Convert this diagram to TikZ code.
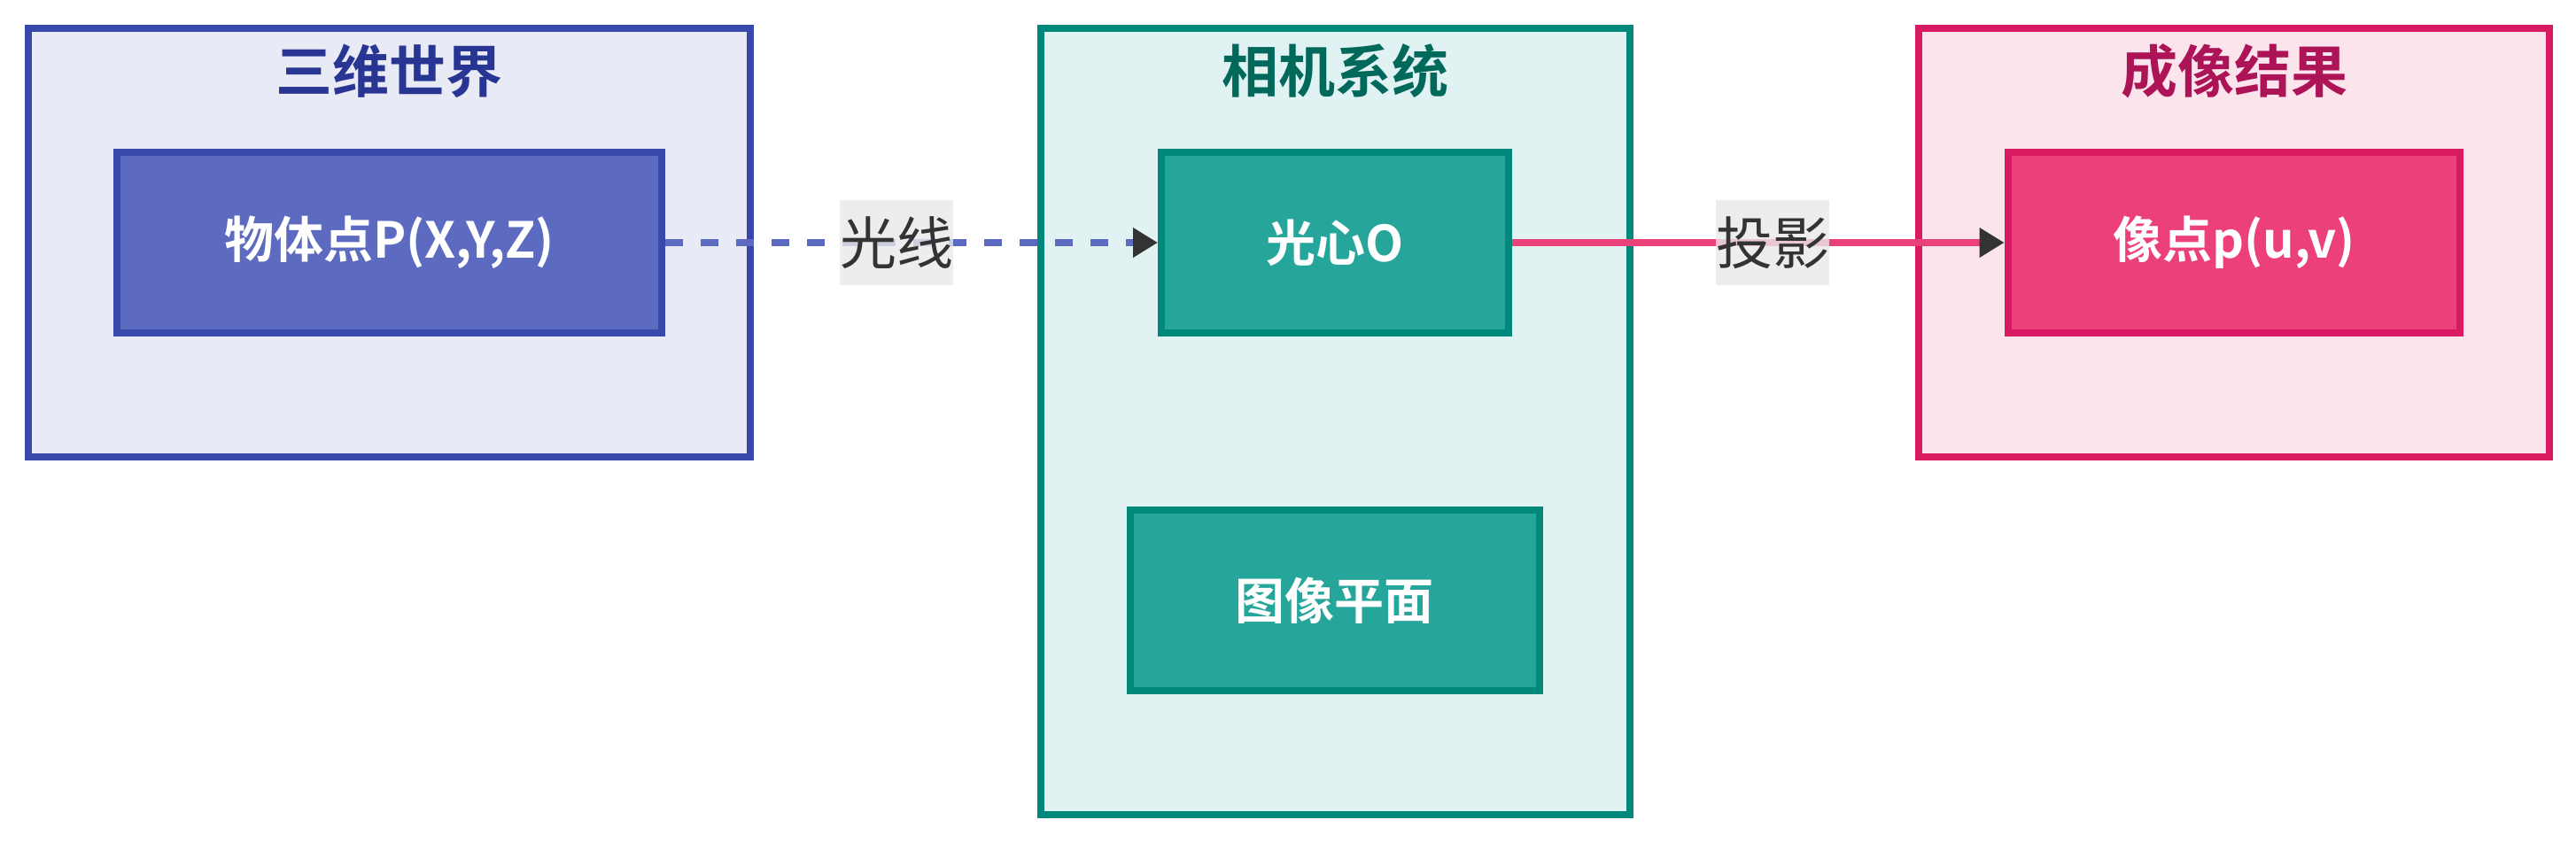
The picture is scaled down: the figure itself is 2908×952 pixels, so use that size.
\documentclass[tikz,border=0pt]{standalone}
\usepackage{fontspec}
\setmainfont{Noto Sans CJK SC}[BoldFont={Noto Sans CJK SC Bold}]
\usepackage{xcolor}
\definecolor{world-fill}{HTML}{E8EAF6}
\definecolor{world-line}{HTML}{3949AB}
\definecolor{world-node}{HTML}{5C6BC0}
\definecolor{world-title}{HTML}{283593}
\definecolor{cam-fill}{HTML}{E0F2F1}
\definecolor{cam-line}{HTML}{00897B}
\definecolor{cam-node}{HTML}{26A69A}
\definecolor{cam-title}{HTML}{00695C}
\definecolor{img-fill}{HTML}{FCE4EC}
\definecolor{img-line}{HTML}{D81B60}
\definecolor{img-node}{HTML}{EC407A}
\definecolor{img-title}{HTML}{AD1457}
\definecolor{labelgray}{HTML}{E8E8E8}
\definecolor{tipgray}{HTML}{333333}
\usepackage{tikz}
\usetikzlibrary{arrows.meta, positioning, calc}

\begin{document}
\begin{tikzpicture}[
            x=0.5pt, y=0.5pt,
            node distance=96pt and 278pt,
            every node/.style={line width=4pt},
            groupbox/.style={rectangle, draw, inner sep=0pt},
            grouptitle/.style={font=\bfseries\fontsize{32pt}{38pt}\selectfont},
            pointbox/.style={rectangle, draw, minimum height=102pt, text=white, font=\bfseries\fontsize{28pt}{34pt}\selectfont},
            edgelabel/.style={rectangle, fill=labelgray, fill opacity=0.8, text opacity=1, text=tipgray, minimum width=64pt, minimum height=48pt, inner sep=0pt, font=\fontsize{32pt}{38pt}\selectfont},
            arrow/.style={-{Triangle[length=14pt, width=16pt, color=tipgray]}, line width=4pt}
        ]

        \useasboundingbox (0,0) rectangle (2908,-952);

        % --- 1. GROUPS ---
        \node[groupbox, draw=world-line, fill=world-fill, minimum width=407.5pt, minimum height=242pt] (world) at (439.5,-274) {};
        \node[groupbox, draw=cam-line, fill=cam-fill, minimum width=332.5pt, minimum height=444pt] (camera) at (1507.5,-476) {};
        \node[groupbox, draw=img-line, fill=img-fill, minimum width=356pt, minimum height=242pt] (image) at (2522,-274) {};

        \node[grouptitle, text=world-title] (worldtitle) at ($(world.north)+(0,-52)$) {三维世界};
        \node[grouptitle, text=cam-title] (cameratitle) at ($(camera.north)+(0,-52)$) {相机系统};
        \node[grouptitle, text=img-title] (imagetitle) at ($(image.north)+(0,-52)$) {成像结果};

        % --- 2. POINTS ---
        \node[pointbox, draw=world-line, fill=world-node, minimum width=307.5pt] (objpt) at (world.center) {物体点P(X,Y,Z)};
        \node[pointbox, draw=cam-line, fill=cam-node, minimum width=195.8pt, right=of objpt] (optc) {光心O};
        \node[pointbox, draw=cam-line, fill=cam-node, minimum width=231pt, below=of optc] (plane) {图像平面};
        \node[pointbox, draw=img-line, fill=img-node, minimum width=255.3pt, right=of optc] (imgpt) {像点p(u,v)};

        % --- 3. RAYS ---
        \draw[arrow, world-node, dash pattern=on 10pt off 10pt] (objpt) -- node[edgelabel, pos=0.47] (raylbl) {光线} (optc);
        \draw[arrow, img-node] (optc) -- node[edgelabel, pos=0.53] (projlbl) {投影} (imgpt);

\end{tikzpicture}
\end{document}
